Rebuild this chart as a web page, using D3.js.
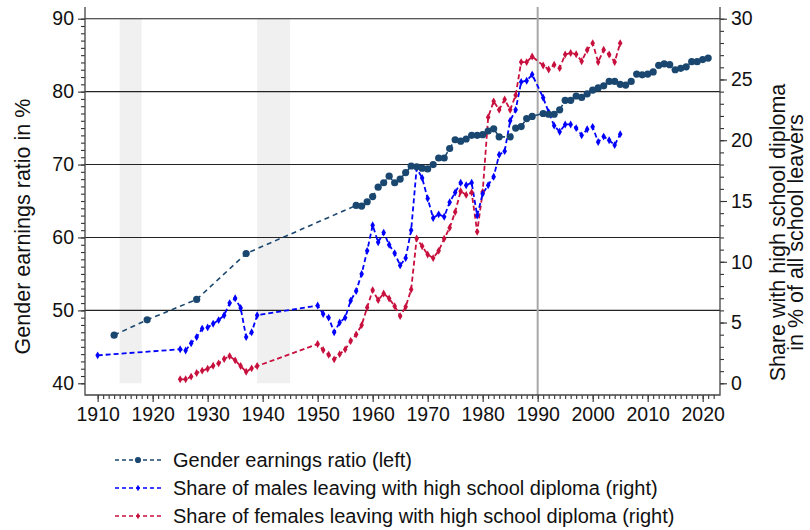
<!DOCTYPE html>
<html>
<head>
<meta charset="utf-8">
<script src="https://cdn.jsdelivr.net/npm/d3@7"></script>
<style>
  body { margin: 0; background: #fff; }
  text { font-family: "Liberation Sans", Arial, sans-serif; fill: #111; }
</style>
</head>
<body>
<svg id="chart" width="810" height="530"></svg>
<script>
// Gender earnings ratio (left axis, %)
const earnYears = [1913, 1919, 1928, 1937, 1957, 1958, 1959, 1960, 1961, 1962, 1963, 1964, 1965, 1966, 1967, 1968, 1969, 1970,
    1971, 1972, 1973, 1974, 1975, 1976, 1977, 1978, 1979, 1980, 1981, 1982, 1983, 1985, 1986, 1987, 1988, 1989,
    1991, 1992, 1993, 1994, 1995, 1996, 1997, 1998, 1999, 2000, 2001, 2002, 2003, 2004, 2005, 2006, 2007, 2008,
    2009, 2010, 2011, 2012, 2013, 2014, 2015, 2016, 2017, 2018, 2019, 2020, 2021];
const earnValues = [46.6, 48.7, 51.5, 57.8, 64.4, 64.3, 64.9, 65.6, 66.9, 67.5, 68.4, 67.5, 68.0, 68.9, 69.8, 69.7, 69.5, 69.4,
    70.0, 70.9, 70.9, 72.2, 73.4, 73.2, 73.5, 74.0, 74.0, 74.1, 74.6, 74.9, 73.8, 73.8, 75.0, 75.2, 76.3, 76.6,
    77.0, 76.9, 76.9, 77.5, 78.8, 78.8, 79.4, 79.2, 79.7, 80.2, 80.5, 80.8, 81.4, 81.4, 81.0, 80.9, 81.4, 82.4,
    82.3, 82.4, 82.7, 83.6, 83.8, 83.7, 83.0, 83.2, 83.4, 84.1, 84.1, 84.4, 84.6];

// Share of school leavers with high school diploma (right axis, %)
const maleYears = [1910, 1925, 1926, 1927, 1928, 1929, 1930, 1931, 1932, 1933, 1934, 1935, 1936, 1937, 1938, 1939,
    1950, 1951, 1952, 1953, 1954, 1955, 1956, 1957, 1958, 1959, 1960, 1961, 1962, 1963, 1964, 1965, 1966, 1967,
    1968, 1969, 1970, 1971, 1972, 1973, 1974, 1975, 1976, 1977, 1978, 1979, 1980, 1981, 1982, 1983, 1984, 1985,
    1986, 1987, 1988, 1989, 1991, 1992, 1993, 1994, 1995, 1996, 1997, 1998, 1999, 2000, 2001, 2002, 2003, 2004, 2005];
const maleValues = [2.3, 2.8, 2.7, 3.3, 3.8, 4.5, 4.6, 4.9, 5.2, 5.6, 6.6, 7.0, 6.2, 3.8, 4.2, 5.6,
    6.4, 5.7, 5.4, 4.2, 5.0, 5.4, 6.8, 7.6, 9.0, 10.9, 13.0, 11.6, 12.4, 11.4, 10.7, 9.7, 10.3, 12.6,
    17.7, 16.9, 15.2, 13.6, 13.9, 13.7, 14.9, 15.7, 16.5, 16.3, 16.5, 13.8, 15.6, 16.3, 17.0, 18.8, 19.1, 21.6,
    22.5, 24.8, 24.9, 25.4, 23.5, 22.3, 21.2, 20.7, 21.3, 21.3, 21.0, 20.4, 20.9, 21.1, 19.85, 20.3, 20.0, 19.6, 20.5];

const femaleYears = [1925, 1926, 1927, 1928, 1929, 1930, 1931, 1932, 1933, 1934, 1935, 1936, 1937, 1938, 1939,
    1950, 1951, 1952, 1953, 1954, 1955, 1956, 1957, 1958, 1959, 1960, 1961, 1962, 1963, 1964, 1965, 1966, 1967,
    1968, 1969, 1970, 1971, 1972, 1973, 1974, 1975, 1976, 1977, 1978, 1979, 1980, 1981, 1982, 1983, 1984, 1985,
    1986, 1987, 1988, 1989, 1991, 1992, 1993, 1994, 1995, 1996, 1997, 1998, 1999, 2000, 2001, 2002, 2003, 2004, 2005];
const femaleValues = [0.33, 0.33, 0.55, 0.85, 1.04, 1.2, 1.45, 1.64, 2.0, 2.24, 1.89, 1.42, 0.95, 1.23, 1.42,
    3.23, 2.74, 2.35, 1.97, 2.4, 2.79, 3.48, 4.02, 4.79, 6.24, 7.67, 6.84, 7.39, 6.98, 6.35, 5.53, 6.29, 7.72,
    11.91, 11.28, 10.6, 10.3, 10.9, 11.9, 12.8, 14.1, 15.8, 15.5, 15.7, 12.46, 15.74, 21.9, 23.2, 22.5, 23.36, 22.5,
    23.7, 26.43, 26.43, 26.89, 26.15, 25.82, 26.22, 25.93, 27.05, 27.18, 27.08, 26.5, 27.42, 27.99, 26.43, 27.45, 27.05, 26.43, 27.99];

// World wars, shaded
const warPeriods = [[1914, 1918], [1939, 1945]];
const xTicks = d3.range(1910, 2021, 10);
const leftTicks = [40, 50, 60, 70, 80, 90];
const rightTicks = [0, 5, 10, 15, 20, 25, 30];
const legendLabels = [
    "Gender earnings ratio (left)",
    "Share of males leaving with high school diploma (right)",
    "Share of females leaving with high school diploma (right)"
];

const colEarn = "#1a476f", colMale = "#0000ff", colFemale = "#c8103e";

const svg = d3.select("#chart");
const plotLeft = 85, plotRight = 720, plotTop = 7, plotBottom = 395;

const x = d3.scaleLinear().domain([1907.7, 2023.15]).range([plotLeft, plotRight]);
const yL = d3.scaleLinear().domain([40, 90]).range([383.3, 18.7]);
const yR = d3.scaleLinear().domain([0, 30]).range([383.3, 18.7]);

// shaded war years
svg.selectAll(".war")
    .data(warPeriods)
    .enter().append("rect")
    .attr("x", d => x(d[0]))
    .attr("width", d => x(d[1]) - x(d[0]))
    .attr("y", yL(90))
    .attr("height", yL(40) - yL(90))
    .attr("fill", "#f0f0f0");

// horizontal grid on the left axis
svg.selectAll(".grid")
    .data(leftTicks.filter(d => d > 40))
    .enter().append("line")
    .attr("x1", plotLeft).attr("x2", plotRight)
    .attr("y1", d => yL(d)).attr("y2", d => yL(d))
    .attr("stroke", "#222")
    .attr("stroke-width", 1.1);

// 1990 marker line
svg.append("line")
    .attr("x1", x(1990)).attr("x2", x(1990))
    .attr("y1", plotTop).attr("y2", plotBottom)
    .attr("stroke", "#a8a8a8")
    .attr("stroke-width", 2);

// axes
const xAxis = svg.append("g")
    .attr("transform", `translate(0,${plotBottom})`)
    .call(d3.axisBottom(x).tickValues(xTicks).tickSize(7).tickSizeOuter(0).tickFormat(d3.format("d")));
svg.append("g")
    .attr("transform", `translate(0,${plotBottom})`)
    .call(d3.axisBottom(x).tickValues(d3.range(1910, 2023)).tickSize(4).tickFormat(""));

const yAxisL = svg.append("g")
    .attr("transform", `translate(${plotLeft},0)`)
    .call(d3.axisLeft(yL).tickValues(leftTicks).tickSize(7).tickSizeOuter(0));
svg.append("g")
    .attr("transform", `translate(${plotLeft},0)`)
    .call(d3.axisLeft(yL).tickValues(d3.range(40, 91)).tickSize(4).tickFormat(""));

const yAxisR = svg.append("g")
    .attr("transform", `translate(${plotRight},0)`)
    .call(d3.axisRight(yR).tickValues(rightTicks).tickSize(7).tickSizeOuter(0));
svg.append("g")
    .attr("transform", `translate(${plotRight},0)`)
    .call(d3.axisRight(yR).tickValues(d3.range(0, 31)).tickSize(4).tickFormat(""));

svg.selectAll(".domain").remove();
svg.selectAll(".tick line").attr("stroke", "#333").attr("stroke-width", 1.1);
svg.selectAll(".tick text")
    .style("font-family", "'Liberation Sans', Arial, sans-serif")
    .style("font-size", "19.5px")
    .attr("fill", "#111");
xAxis.selectAll(".tick text").attr("dy", "0.9em").attr("y", 8);
yAxisL.selectAll(".tick text").attr("x", -11);
yAxisR.selectAll(".tick text").attr("x", 11);

// axis lines
svg.append("path")
    .attr("d", `M${plotLeft},${plotTop}V${plotBottom}H${plotRight}V${plotTop}`)
    .attr("fill", "none")
    .attr("stroke", "#444")
    .attr("stroke-width", 1.3);

// axis titles
svg.append("text")
    .attr("transform", "translate(30,226.5) rotate(-90)")
    .attr("text-anchor", "middle")
    .style("font-size", "21.5px")
    .text("Gender earnings ratio in %");
svg.append("text")
    .attr("transform", "translate(785,232.5) rotate(-90)")
    .attr("text-anchor", "middle")
    .style("font-size", "21.5px")
    .text("Share with high school diploma");
svg.append("text")
    .attr("transform", "translate(803,232.5) rotate(-90)")
    .attr("text-anchor", "middle")
    .style("font-size", "21.5px")
    .text("in % of all school leavers");

// series
const earn = earnYears.map((yr, i) => ({x: yr, y: earnValues[i]}));
const male = maleYears.map((yr, i) => ({x: yr, y: maleValues[i]}));
const female = femaleYears.map((yr, i) => ({x: yr, y: femaleValues[i]}));

function drawSeries(data, yScale, color, width, dash) {
    svg.append("path")
        .datum(data)
        .attr("fill", "none")
        .attr("stroke", color)
        .attr("stroke-width", width)
        .attr("stroke-dasharray", dash)
        .attr("d", d3.line().x(d => x(d.x)).y(d => yScale(d.y)));
}

drawSeries(female, yR, colFemale, 1.8, "5,3");
drawSeries(male, yR, colMale, 1.8, "5,3");
drawSeries(earn, yL, colEarn, 1.6, "5,4");

const diamond = d3.symbol().type(d3.symbolDiamond).size(18);

svg.selectAll(".fpt")
    .data(female)
    .enter().append("path")
    .attr("d", diamond)
    .attr("transform", d => `translate(${x(d.x)},${yR(d.y)})`)
    .attr("fill", colFemale);

svg.selectAll(".mpt")
    .data(male)
    .enter().append("path")
    .attr("d", diamond)
    .attr("transform", d => `translate(${x(d.x)},${yR(d.y)})`)
    .attr("fill", colMale);

svg.selectAll(".ept")
    .data(earn)
    .enter().append("circle")
    .attr("cx", d => x(d.x))
    .attr("cy", d => yL(d.y))
    .attr("r", 3.6)
    .attr("fill", colEarn);

// legend
const legendColors = [colEarn, colMale, colFemale];
const legend = svg.selectAll(".legend")
    .data(legendLabels)
    .enter().append("g")
    .attr("transform", (d, i) => `translate(115,${460 + i * 28})`);

legend.append("line")
    .attr("x1", 0).attr("x2", 47)
    .attr("stroke", (d, i) => legendColors[i])
    .attr("stroke-width", 1.6)
    .attr("stroke-dasharray", "4,3");

legend.append("path")
    .attr("d", (d, i) => i === 0 ? d3.symbol().type(d3.symbolCircle).size(30)() : d3.symbol().type(d3.symbolDiamond).size(12)())
    .attr("transform", "translate(23,0)")
    .attr("fill", (d, i) => legendColors[i]);

legend.append("text")
    .attr("x", 58)
    .attr("dy", "0.35em")
    .style("font-size", "20px")
    .text(d => d);
</script>
</body>
</html>
